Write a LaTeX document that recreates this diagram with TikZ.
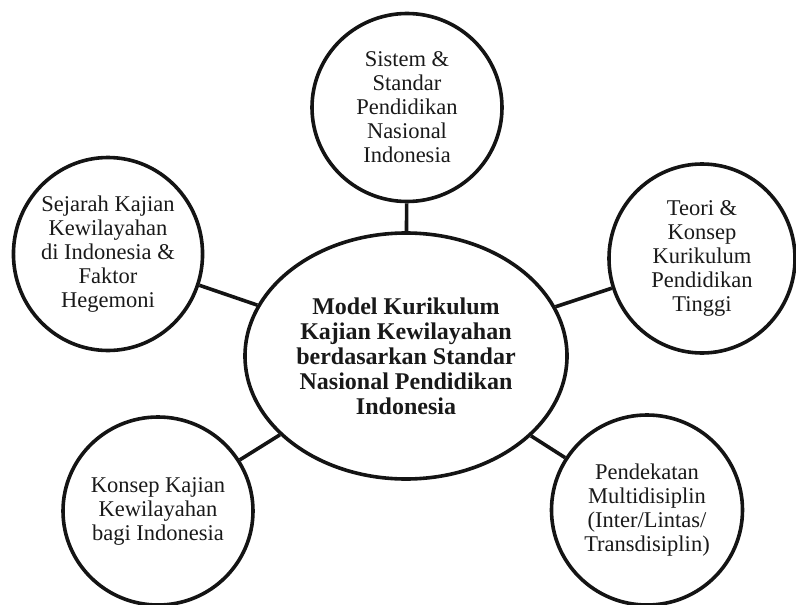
\documentclass[tikz,border=0pt]{standalone}
\usepackage{fontspec}
\setmainfont{Liberation Serif}
\usetikzlibrary{shapes.geometric}
\begin{document}
\begin{tikzpicture}[x=1pt,y=-1pt,
  bubble/.style={draw=black!92, line width=3.6pt, ellipse, inner sep=0pt,
    align=center, text=black!90, font=\fontsize{22.5}{24}\selectfont},
  hub/.style={bubble, font=\fontsize{24}{25}\selectfont\bfseries},
  link/.style={draw=black!92, line width=3.6pt}]
\useasboundingbox (0,0) rectangle (796,605);
% central topic
\node[hub, minimum width=322pt, minimum height=246pt] (hub) at (406,356)
  {Model Kurikulum\\Kajian Kewilayahan\\berdasarkan Standar\\Nasional Pendidikan\\Indonesia};
% surrounding topics
\node[bubble, minimum width=190pt, minimum height=188pt] (sistem) at (407,107.5)
  {Sistem \&\\Standar\\Pendidikan\\Nasional\\Indonesia};
\node[bubble, minimum width=189pt, minimum height=193pt] (sejarah) at (108,254)
  {Sejarah Kajian\\Kewilayahan\\di Indonesia \&\\Faktor\\Hegemoni};
\node[bubble, minimum width=186pt, minimum height=189pt] (teori) at (702,258.5)
  {Teori \&\\Konsep\\Kurikulum\\Pendidikan\\Tinggi};
\node[bubble, minimum width=188pt, minimum height=188pt] (konsep) at (158,511)
  {Konsep Kajian\\Kewilayahan\\bagi Indonesia};
\node[bubble, minimum width=191pt, minimum height=190pt] (pendekatan) at (647,510)
  {Pendekatan\\Multidisiplin\\(Inter/Lintas/\\Transdisiplin)};
% spokes
\draw[link] (hub) -- (sistem);
\draw[link] (hub) -- (sejarah);
\draw[link] (hub) -- (teori);
\draw[link] (hub) -- (konsep);
\draw[link] (hub) -- (pendekatan);
\end{tikzpicture}
\end{document}
